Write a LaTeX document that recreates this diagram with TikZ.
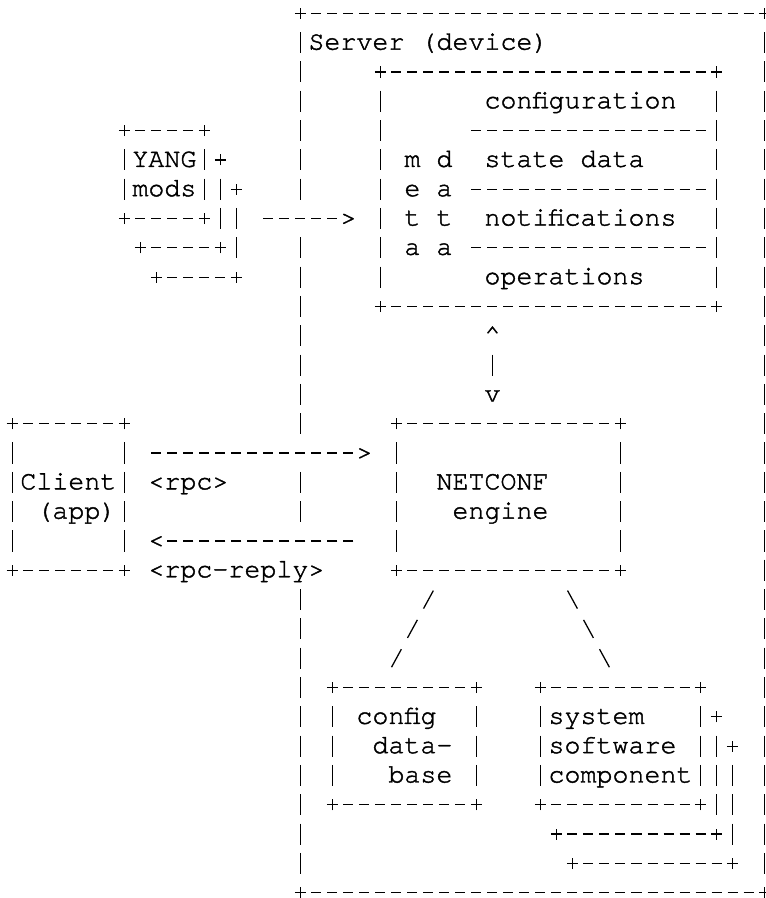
\documentclass[tikz,border=0pt]{standalone}
\usepackage{fontspec}
\setmonofont[FakeBold=1.5]{TeX Gyre Cursor}
\usetikzlibrary{fit}

% one unit = one character cell of the listing
\tikzset{
  ascii/.style={line width=0.95pt, black},
  hrun/.style={ascii, dash pattern=on 7.5pt off 4.5pt, shorten <=8.25pt, shorten >=8.25pt},
  vrun/.style={ascii, dash pattern=on 15.8pt off 6.18pt, shorten <=14.08pt, shorten >=14.08pt},
  slash/.style={ascii, dash pattern=on 15.4pt off 9.64pt, shorten <=17.34pt, shorten >=17.34pt},
  txt/.style={font=\ttfamily\fontsize{20pt}{22pt}\selectfont, inner sep=0pt, outer sep=0pt,
              anchor=base west, yshift=-5.25pt},
  glyph/.style={txt, anchor=base},
  frame/.style={inner sep=0pt, outer sep=0pt},
  plus/.pic={\draw[ascii] (-4.2pt,0) -- (4.2pt,0) (0,-4.2pt) -- (0,4.2pt);}
}

\newcommand{\asciiframe}[1]{%
  \draw[hrun] (#1.north west) -- (#1.north east);
  \draw[hrun] (#1.south west) -- (#1.south east);
  \draw[vrun] (#1.north west) -- (#1.south west);
  \draw[vrun] (#1.north east) -- (#1.south east);
  \pic at (#1.north west) {plus}; \pic at (#1.north east) {plus};
  \pic at (#1.south west) {plus}; \pic at (#1.south east) {plus};
}

\begin{document}
\begin{tikzpicture}[x=12pt, y=-21.98pt]
  \useasboundingbox (-0.771,-0.454) rectangle (47.04,30.18);

  % arrow heads
  \coordinate (yangto)  at (21, 7);
  \coordinate (up)      at (30,11);
  \coordinate (down)    at (30,13);
  \coordinate (rpcto)   at (22,15);
  \coordinate (replyto) at ( 9,18);

  % Server (device)
  \node[frame, fit={(18,0) (47,30)}] (server) {};
  \draw[hrun] (server.north west) -- (server.north east);
  \draw[hrun] (server.south west) -- (server.south east);
  \draw[vrun] (server.north east) -- (server.south east);
  \draw[vrun] (server.north west) -- (server.north west |- yangto);
  \draw[vrun] (server.north west |- yangto) -- (server.north west |- rpcto);
  \draw[vrun] (server.north west |- rpcto) -- (server.north west |- replyto);
  \pic at (server.north west) {plus}; \pic at (server.north east) {plus};
  \pic at (server.south west) {plus}; \pic at (server.south east) {plus};
  \node[txt] (srvname) at (18.5,1) {Server (device)};

  % meta data box
  \node[frame, fit={(23,2) (44,10)}] (meta) {};
  \asciiframe{meta}
  \foreach \r in {4,6,8}
    \draw[hrun] (28,\r) -- (44,\r);
  \node[txt] (config)  at (29.5,3) {configuration};
  \node[txt] (state)   at (29.5,5) {state data};
  \node[txt] (notif)   at (29.5,7) {notifications};
  \node[txt] (ops)     at (29.5,9) {operations};
  \node[txt] (meta1)   at (24.5,5) {m d};
  \node[txt] (meta2)   at (24.5,6) {e a};
  \node[txt] (meta3)   at (24.5,7) {t t};
  \node[txt] (meta4)   at (24.5,8) {a a};

  % YANG modules
  \node[frame, fit={(7,4) (12,7)}] (yang) {};
  \asciiframe{yang}
  \foreach \k in {1,2} {
    \draw[vrun] (12+\k,4+\k) -- (12+\k,7+\k);
    \draw[hrun] (7+\k,7+\k) -- (12+\k,7+\k);
    \pic at (12+\k,4+\k) {plus};
    \pic at (7+\k,7+\k) {plus};
    \pic at (12+\k,7+\k) {plus};
  }
  \node[txt] (yangtxt) at (7.5,5) {YANG};
  \node[txt] (modstxt) at (7.5,6) {mods};
  \draw[hrun, shorten <=44.25pt] (yang.east |- yangto) -- (yangto);
  \node[glyph] (yangtip) at (yangto) {>};

  % meta data <-> engine
  \node[glyph] (uptip)   at (up)   {\textasciicircum};
  \node[glyph] (downtip) at (down) {v};
  \draw[vrun] (up) -- (down);

  % Client (app)
  \node[frame, fit={(0,14) (7,19)}] (client) {};
  \asciiframe{client}
  \node[txt] (clienttxt) at (0.5,16) {Client};
  \node[txt] (apptxt)    at (1.5,17) {(app)};

  % NETCONF engine
  \node[frame, fit={(24,14) (38,19)}] (netconf) {};
  \asciiframe{netconf}
  \node[txt] (nctxt)     at (26.5,16) {NETCONF};
  \node[txt] (enginetxt) at (27.5,17) {engine};
  \draw[vrun] (server.south west |- netconf.south) -- (server.south west);

  % rpc / rpc-reply
  \draw[hrun, shorten <=20.25pt] (client.east |- rpcto) -- (rpcto);
  \node[glyph] (rpctip) at (rpcto) {>};
  \node[txt] (rpc) at (8.5,16) {<rpc>};
  \draw[hrun, shorten <=32.25pt] (netconf.west |- replyto) -- (replyto);
  \node[glyph] (replytip) at (replyto) {<};
  \node[txt] (rpcreply) at (8.5,19) {<rpc-reply>};

  % config database
  \node[frame, fit={(20,23) (29,27)}] (db) {};
  \asciiframe{db}
  \node[txt] (dbtxt1) at (21.5,24) {config};
  \node[txt] (dbtxt2) at (22.5,25) {data-};
  \node[txt] (dbtxt3) at (23.5,26) {base};
  \draw[slash] ([xshift=36pt]netconf.south west) -- ([xshift=36pt]db.north west);

  % system software components
  \node[frame, fit={(33,23) (43,27)}] (system) {};
  \asciiframe{system}
  \foreach \k in {1,2} {
    \draw[vrun] (43+\k,23+\k) -- (43+\k,27+\k);
    \draw[hrun] (33+\k,27+\k) -- (43+\k,27+\k);
    \pic at (43+\k,23+\k) {plus};
    \pic at (33+\k,27+\k) {plus};
    \pic at (43+\k,27+\k) {plus};
  }
  \node[txt] (systxt1) at (33.5,24) {system};
  \node[txt] (systxt2) at (33.5,25) {software};
  \node[txt] (systxt3) at (33.5,26) {component};
  \draw[slash] ([xshift=-48pt]netconf.south east) -- ([xshift=60pt]system.north west);
\end{tikzpicture}
\end{document}
